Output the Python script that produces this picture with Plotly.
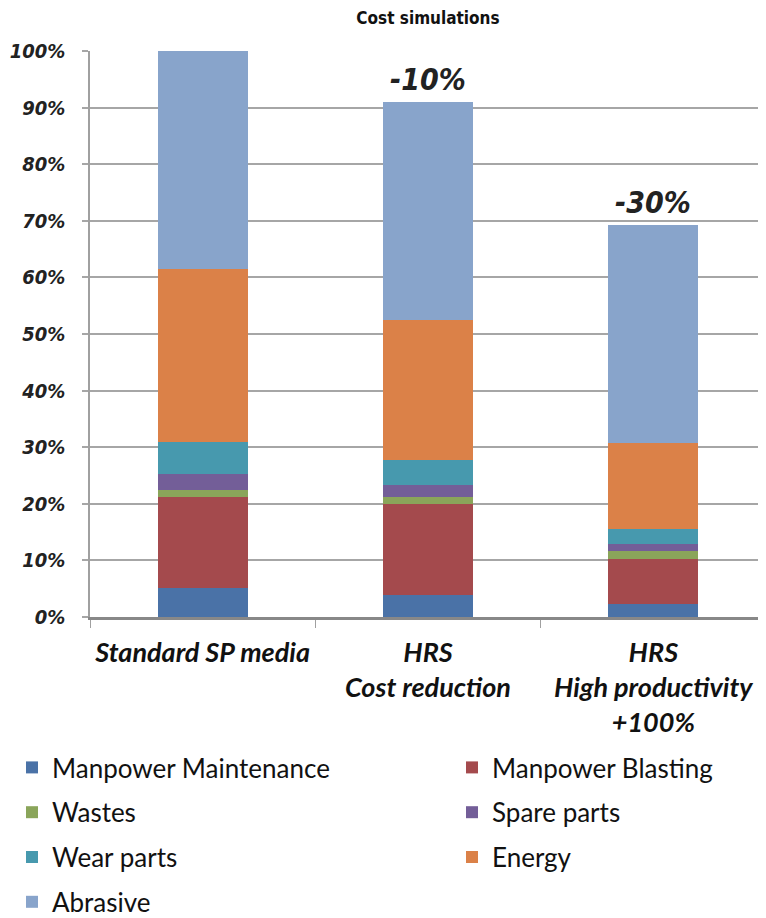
import plotly.graph_objects as go

categories = ["Standard SP media", "HRS<br>Cost reduction", "HRS<br>High productivity<br>+100%"]
series_names = ["Manpower Maintenance", "Manpower Blasting", "Wastes", "Spare parts",
                "Wear parts", "Energy", "Abrasive"]
manpower_maintenance = [0.052, 0.039, 0.023]
manpower_blasting = [0.160, 0.160, 0.080]
wastes = [0.013, 0.013, 0.014]
spare_parts = [0.028, 0.022, 0.012]
wear_parts = [0.056, 0.043, 0.026]
energy = [0.306, 0.247, 0.153]
abrasive = [0.385, 0.386, 0.385]
change_labels = ["", "-10%", "-30%"]
colors = ["#4A72A7", "#A44A4D", "#8AA55A", "#735E98", "#4799AE", "#DB8148", "#88A4CB"]
legend_column = ["legend", "legend2", "legend", "legend2", "legend", "legend2", "legend"]

values = [manpower_maintenance, manpower_blasting, wastes, spare_parts, wear_parts, energy, abrasive]

cond = "DejaVu Sans Condensed, Liberation Sans Narrow, sans-serif"
body = "Lato, Open Sans, sans-serif"

W, H = 758, 910

fig = go.Figure()
for i, (name, vals, c, lg) in enumerate(zip(series_names, values, colors, legend_column)):
    fig.add_trace(go.Bar(x=categories, y=vals, name=name, marker=dict(color=c, line=dict(width=0)),
                         width=0.4, legend=lg, legendgroup="g%d" % i))

totals = [sum(v[i] for v in values) for i in range(len(categories))]
for cat, tot, lab in zip(categories, totals, change_labels):
    if lab:
        fig.add_annotation(x=cat, y=tot, text="<b><i>" + lab + "</i></b>", showarrow=False,
                           yanchor="bottom", yshift=3, font=dict(family=cond, size=30, color="#222"))

legend_common = dict(orientation="v", yref="container", xref="container", yanchor="top",
                     xanchor="left", traceorder="grouped",
                     font=dict(family=body, size=26, color="#111"),
                     tracegroupgap=8, itemwidth=30, bgcolor="rgba(0,0,0,0)")

fig.update_layout(
    barmode="stack",
    width=W, height=H,
    margin=dict(l=82, r=0, t=43, b=301, autoexpand=False),
    paper_bgcolor="white", plot_bgcolor="white",
    title=dict(text="<b>Cost simulations</b>", x=420 / W, xref="container", y=1 - 10 / H,
               yanchor="middle", xanchor="center",
               font=dict(family=cond, size=17, color="#111")),
    bargap=0.6,
    showlegend=True,
    legend=dict(x=4 / W, y=1 - 736 / H, **legend_common),
    legend2=dict(x=444 / W, y=1 - 736 / H, **legend_common),
)
fig.update_yaxes(range=[0, 1], tickformat=".0%", dtick=0.1, showgrid=True,
                 gridcolor="#A6A6A6", gridwidth=1.5, zeroline=False,
                 showline=True, linecolor="#A0A0A0", linewidth=1.5,
                 ticks="outside", ticklen=6, tickcolor="#A6A6A6", tickwidth=1.5,
                 ticklabelstandoff=13,
                 tickfont=dict(family=cond, size=20, color="#222"),
                 tickprefix="<b><i>", ticksuffix="</i></b>")
fig.update_xaxes(showline=True, linecolor="#888888", linewidth=2.5,
                 ticks="outside", tickson="boundaries", ticklen=8, tickcolor="#A0A0A0",
                 ticklabelstandoff=10,
                 tickfont=dict(family=body, size=27, color="#111"),
                 tickprefix="<b><i>", ticksuffix="</i></b>")

fig.write_html("out.html")
